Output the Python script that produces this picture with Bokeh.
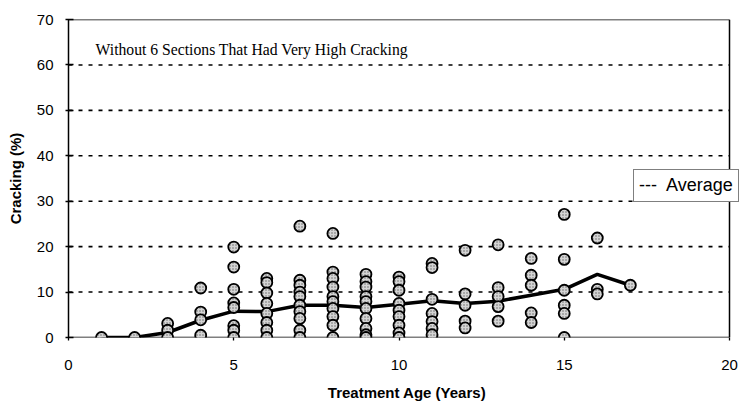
from bokeh.plotting import figure
from bokeh.models import FixedTicker, Label, Legend, LegendItem, Range1d
from bokeh.embed import file_html
from bokeh.resources import INLINE

# ---- data ----
ages = [1, 2, 3, 4, 5, 6, 7, 8, 9, 10, 11, 12, 13, 14, 15, 16, 17]
cracking_by_age = [
    [0],
    [0],
    [3.1, 1.6, 0],
    [10.9, 5.6, 3.9, 0.5],
    [19.9, 15.5, 10.6, 7.6, 6.6, 2.6, 1.6, 0],
    [13.0, 12.1, 9.8, 7.5, 5.3, 3.3, 1.6, 0],
    [24.5, 12.6, 11.5, 10.0, 9.0, 7.1, 5.7, 4.2, 1.6, 0],
    [22.9, 14.4, 13.0, 11.1, 9.0, 7.9, 6.4, 4.6, 2.7, 0],
    [13.9, 12.3, 11.1, 9.0, 7.9, 6.4, 4.2, 2.0, 0.6, 0],
    [13.3, 12.3, 10.4, 7.5, 6.0, 4.6, 2.7, 1.0, 0],
    [16.3, 15.4, 8.4, 5.3, 3.5, 2.0, 0.6],
    [19.2, 9.6, 7.1, 3.6, 2.1],
    [20.4, 11.0, 9.0, 6.8, 3.6],
    [17.4, 13.7, 11.5, 5.4, 3.3],
    [27.1, 17.2, 10.4, 7.1, 5.3, 0],
    [21.9, 10.6, 9.6],
    [11.5],
]
average_cracking = [0, 0, 1.1, 3.8, 5.8, 5.7, 7.1, 7.1, 6.6, 7.3, 8.1, 7.5, 8.0,
                    9.3, 10.6, 13.9, 11.5]
x_ticks = [0, 5, 10, 15, 20]
y_ticks = [0, 10, 20, 30, 40, 50, 60, 70]
title_text = "Without 6 Sections That Had Very High Cracking"
x_label = "Treatment Age (Years)"
y_label = "Cracking (%)"
legend_label = "---  Average"

pt_x = [a for a, vals in zip(ages, cracking_by_age) for _ in vals]
pt_y = [v for vals in cracking_by_age for v in vals]

# ---- layout (pixels) ----
W, H = 745, 412
LEFT, TOP, BOTTOM = 68, 19, 75
AXIS_RIGHT_PX = 729          # where x = 20 sits; frame runs on to the edge
x_min, x_max = x_ticks[0], x_ticks[-1]
y_min, y_max = y_ticks[0], y_ticks[-1]
x_end = x_min + (x_max - x_min) * (W - LEFT) / (AXIS_RIGHT_PX - LEFT)

SANS = "Liberation Sans"

p = figure(width=W, height=H, output_backend="svg", toolbar_location=None,
           x_range=Range1d(x_min, x_end), y_range=Range1d(y_min, y_max),
           min_border_left=LEFT, min_border_right=0, min_border_top=TOP,
           min_border_bottom=BOTTOM)
p.background_fill_color = "white"
p.border_fill_color = "white"
p.outline_line_color = None
p.xgrid.visible = False
p.ygrid.visible = False

# axes
p.xaxis.ticker = FixedTicker(ticks=x_ticks)
p.yaxis.ticker = FixedTicker(ticks=y_ticks)
for ax in (p.xaxis, p.yaxis):
    ax.axis_line_color = "black"
    ax.axis_line_width = 1.5
    ax.major_tick_line_color = "black"
    ax.major_tick_line_width = 1.3
    ax.minor_tick_line_color = None
    ax.major_label_text_font = SANS
    ax.major_label_text_font_size = "15px"
    ax.major_label_text_color = "black"
    ax.axis_label_text_font = SANS
    ax.axis_label_text_font_size = "15px"
    ax.axis_label_text_font_style = "bold"
    ax.axis_label_text_color = "black"
p.xaxis.axis_line_color = None
p.xaxis.major_tick_in = 0
p.xaxis.major_tick_out = 3
p.yaxis.major_tick_in = 5
p.yaxis.major_tick_out = 3
p.xaxis.major_label_standoff = 19
p.yaxis.major_label_standoff = 12
p.xaxis.axis_label = x_label
p.yaxis.axis_label = y_label
p.xaxis.axis_label_standoff = 11
p.yaxis.axis_label_standoff = 10

# dotted grid lines, stopping at x = 20
grid_y = y_ticks[1:-1]
p.segment(x0=[x_min] * len(grid_y), x1=[x_max] * len(grid_y), y0=grid_y, y1=grid_y,
          line_color="black", line_width=1.6, line_dash="4 6")
# plot-area box: bottom, top and right edges
p.segment(x0=[x_min, x_min, x_max], x1=[x_max, x_max, x_max],
          y0=[y_min, y_max, y_min], y1=[y_min, y_max, y_max],
          line_color="black", line_width=1.5)

# average line then points
avg = p.line(ages, average_cracking, line_color="black", line_width=3.5)
p.scatter(pt_x, pt_y, marker="circle", size=11, fill_color="#d4d4d4",
          line_color="black", line_width=1.8, hatch_pattern="dot",
          hatch_color="#666666", hatch_scale=3)

# legend
legend = Legend(items=[LegendItem(label=legend_label, renderers=[avg])],
                location=(565, 135))
legend.label_text_font = SANS
legend.label_text_font_size = "18px"
legend.label_text_color = "black"
legend.glyph_width = 0
legend.glyph_height = 20
legend.padding = 5
legend.margin = 0
legend.spacing = 0
legend.label_standoff = 0
legend.border_line_color = "black"
legend.border_line_width = 1.5
legend.background_fill_alpha = 1
p.add_layout(legend, "center")

# title inside the plot
p.add_layout(Label(x=0.82, y=63.5, text=title_text, text_font="Liberation Serif",
                   text_font_size="15.7px", text_color="black",
                   text_baseline="middle", text_align="left"))

open("out.html", "w").write(file_html(p, INLINE))
